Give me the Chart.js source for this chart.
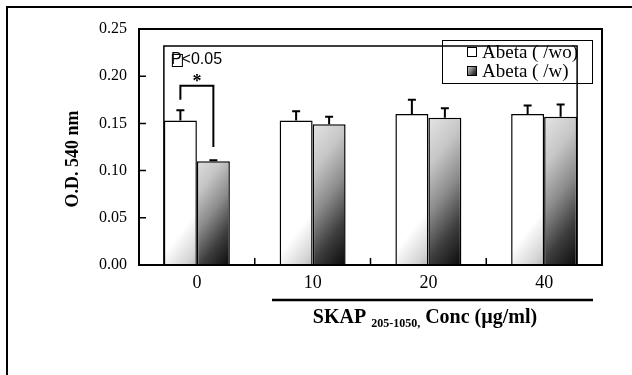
<!DOCTYPE html>
<html>
<head>
<meta charset="utf-8">
<script src="https://cdn.jsdelivr.net/npm/chart.js@4.4.0/dist/chart.umd.min.js"></script>
<style>
  html, body { margin: 0; padding: 0; background: #fff; }
  canvas { display: block; }
</style>
</head>
<body>
<canvas id="odChart" width="632" height="375"></canvas>
<script>
// Data
const categories = ['0', '10', '20', '40'];
const withoutAbeta = [0.153, 0.153, 0.160, 0.160];
const withoutAbetaErr = [0.011, 0.010, 0.015, 0.009];
const withAbeta = [0.110, 0.149, 0.156, 0.157];
const withAbetaErr = [0.001, 0.008, 0.010, 0.013];
const yTicks = [0, 0.05, 0.10, 0.15, 0.20, 0.25];
const seriesLabels = ['Abeta ( /wo)', 'Abeta ( /w)'];

// significance bracket over the 0 group (data units)
const sigTop = 0.19;
const sigLeftEnd = 0.175;
const sigRightEnd = 0.125;
const sigText = 'P<0.05';

const SERIF = "'Liberation Serif', 'Times New Roman', serif";
const SANS = "'Liberation Sans', Arial, sans-serif";
const CAT_PCT = 0.57;

// shading runs across each bar pair: white at top-left, near black at bottom-right
const STOPS = [
  [[0, '#ffffff'], [0.58, '#ffffff'], [0.75, '#d4d4d4'], [0.87, '#a4a4a4'], [1, '#747474']],
  [[0, '#f2f2f2'], [0.2, '#e2e2e2'], [0.4, '#c6c6c6'], [0.6, '#8c8c8c'], [0.8, '#3e3e3e'], [1, '#0a0a0a']]
];
const SLANT = 1.3; // horizontal weight of the shading direction
function pairShade(ctx, pairLeft, pairW, top, bottom, kind) {
  const h = bottom - top;
  const k = (pairW * SLANT + h) / (SLANT * SLANT + 1);
  const g = ctx.createLinearGradient(pairLeft, top, pairLeft + k * SLANT, top + k);
  STOPS[kind].forEach(([o, c]) => g.addColorStop(o, c));
  return g;
}

function barFill(kind) {
  return (c) => {
    const chart = c.chart;
    const xs = chart.scales.x, ys = chart.scales.y;
    if (c.type !== 'data' || !xs || !ys || !xs.width) return kind === 0 ? '#fff' : '#aaa';
    const cx = xs.getPixelForValue(c.dataIndex);
    const w = xs.width / categories.length * CAT_PCT / 2;
    const top = ys.getPixelForValue(c.raw);
    const bottom = ys.getPixelForValue(0);
    return pairShade(chart.ctx, cx - w, w * 2, top, bottom, kind);
  };
}

const decorations = {
  id: 'decorations',
  beforeDraw(chart) {
    const ctx = chart.ctx;
    ctx.save();
    ctx.fillStyle = '#fff';
    ctx.fillRect(0, 0, chart.width, chart.height);
    // outer figure frame (top + left)
    ctx.strokeStyle = '#000';
    ctx.lineWidth = 2;
    ctx.beginPath();
    ctx.moveTo(7, chart.height);
    ctx.lineTo(7, 7);
    ctx.lineTo(chart.width, 7);
    ctx.stroke();
    ctx.restore();
  },
  afterDatasetsDraw(chart) {
    const ctx = chart.ctx;
    const xs = chart.scales.x, ys = chart.scales.y;
    const a = chart.chartArea;
    ctx.save();
    ctx.strokeStyle = '#000';

    // error bars (upper only)
    const errs = [withoutAbetaErr, withAbetaErr];
    ctx.lineWidth = 2;
    chart.data.datasets.forEach((ds, di) => {
      chart.getDatasetMeta(di).data.forEach((bar, i) => {
        const yTop = ys.getPixelForValue(ds.data[i] + errs[di][i]);
        ctx.beginPath();
        ctx.moveTo(bar.x, bar.y);
        ctx.lineTo(bar.x, yTop);
        ctx.moveTo(bar.x - 4, yTop);
        ctx.lineTo(bar.x + 4, yTop);
        ctx.stroke();
      });
    });

    // inner plot rectangle (spans first to last bar)
    const m0 = chart.getDatasetMeta(0).data;
    const m1 = chart.getDatasetMeta(1).data;
    const rLeft = m0[0].x - m0[0].width / 2;
    const rRight = m1[m1.length - 1].x + m1[m1.length - 1].width / 2;
    const rTop = 46;
    ctx.lineWidth = 1.5;
    ctx.beginPath();
    ctx.moveTo(rLeft, a.bottom);
    ctx.lineTo(rLeft, rTop);
    ctx.lineTo(rRight, rTop);
    ctx.lineTo(rRight, a.bottom);
    ctx.stroke();

    // plot frame
    ctx.lineWidth = 2;
    ctx.strokeRect(a.left, a.top, a.right - a.left, a.bottom - a.top);

    // inward ticks
    ctx.lineWidth = 1.5;
    ctx.beginPath();
    yTicks.forEach(v => {
      const y = ys.getPixelForValue(v);
      ctx.moveTo(a.left, y);
      ctx.lineTo(a.left + 7, y);
    });
    for (let i = 0; i < categories.length - 1; i++) {
      const x = (xs.getPixelForValue(i) + xs.getPixelForValue(i + 1)) / 2;
      ctx.moveTo(x, a.bottom);
      ctx.lineTo(x, a.bottom - 7);
    }
    ctx.stroke();

    // significance bracket
    const xl = m0[0].x, xr = m1[0].x;
    const yt = ys.getPixelForValue(sigTop);
    ctx.lineWidth = 2;
    ctx.beginPath();
    ctx.moveTo(xl, ys.getPixelForValue(sigLeftEnd));
    ctx.lineTo(xl, yt);
    ctx.lineTo(xr, yt);
    ctx.lineTo(xr, ys.getPixelForValue(sigRightEnd));
    ctx.stroke();
    ctx.fillStyle = '#000';
    ctx.font = 'bold 18px ' + SERIF;
    ctx.textAlign = 'center';
    ctx.textBaseline = 'middle';
    ctx.fillText('*', (xl + xr) / 2, yt - 3);

    // P<0.05 note
    ctx.font = '16px ' + SANS;
    ctx.textAlign = 'left';
    ctx.fillText(sigText, rLeft + 7, 60);
    ctx.lineWidth = 1;
    ctx.strokeRect(rLeft + 8.5, 54.5, 10, 12);

    // legend
    const lx = 442, ly = 40, lw = 150, lh = 43;
    ctx.lineWidth = 1;
    ctx.strokeRect(lx + 0.5, ly + 0.5, lw, lh);
    ctx.font = '19px ' + SERIF;
    seriesLabels.forEach((t, i) => {
      const cy = ly + 12 + i * 19;
      const sx = 467, s = 10;
      ctx.fillStyle = i === 0 ? '#fff' : pairShade(ctx, sx - s, s * 2, cy - s / 2, cy + s / 2, 1);
      ctx.fillRect(sx, cy - s / 2, s, s);
      ctx.strokeRect(sx + 0.5, cy - s / 2 + 0.5, s - 1, s - 1);
      ctx.fillStyle = '#000';
      ctx.fillText(t, 482, cy + 1);
    });

    // y title
    ctx.save();
    ctx.translate(73, 159);
    ctx.rotate(-Math.PI / 2);
    ctx.font = 'bold 18px ' + SERIF;
    ctx.textAlign = 'center';
    ctx.fillText('O.D. 540 nm', 0, 0);
    ctx.restore();

    // x title with underline bar
    ctx.lineWidth = 2.5;
    ctx.beginPath();
    ctx.moveTo(272, 300);
    ctx.lineTo(593, 300);
    ctx.stroke();
    const parts = [
      { t: 'SKAP ', f: 'bold 20px ' + SERIF, dy: 0 },
      { t: '205-1050,', f: 'bold 12px ' + SERIF, dy: 4 },
      { t: ' Conc (\u00b5g/ml)', f: 'bold 20px ' + SERIF, dy: 0 }
    ];
    let total = 0;
    parts.forEach(p => { ctx.font = p.f; p.w = ctx.measureText(p.t).width; total += p.w; });
    let x = 425 - total / 2;
    ctx.textAlign = 'left';
    ctx.textBaseline = 'alphabetic';
    parts.forEach(p => {
      ctx.font = p.f;
      ctx.fillText(p.t, x, 323 + p.dy);
      x += p.w;
    });
    ctx.restore();
  }
};

new Chart(document.getElementById('odChart'), {
  type: 'bar',
  data: {
    labels: categories,
    datasets: [
      { label: seriesLabels[0], data: withoutAbeta, backgroundColor: barFill(0), borderColor: '#000', borderWidth: 1.5 },
      { label: seriesLabels[1], data: withAbeta, backgroundColor: barFill(1), borderColor: '#000', borderWidth: 1.5 }
    ]
  },
  options: {
    responsive: false,
    devicePixelRatio: 1,
    animation: false,
    layout: { padding: { top: 29, right: 30, left: 0, bottom: 0 } },
    datasets: { bar: { categoryPercentage: CAT_PCT, barPercentage: 1 } },
    plugins: { legend: { display: false }, tooltip: { enabled: false } },
    scales: {
      x: {
        grid: { display: false, drawTicks: false },
        border: { display: false },
        ticks: { color: '#000', font: { family: SERIF, size: 18 }, padding: 7 },
        afterFit: s => { s.height = 110; }
      },
      y: {
        min: 0,
        max: 0.25,
        afterBuildTicks: s => { s.ticks = yTicks.map(v => ({ value: v })); },
        grid: { display: false, drawTicks: false },
        border: { display: false },
        ticks: { color: '#000', font: { family: SERIF, size: 16 }, padding: 12, callback: v => v.toFixed(2) },
        afterFit: s => { s.width = 139; }
      }
    }
  },
  plugins: [decorations]
});
</script>
</body>
</html>
